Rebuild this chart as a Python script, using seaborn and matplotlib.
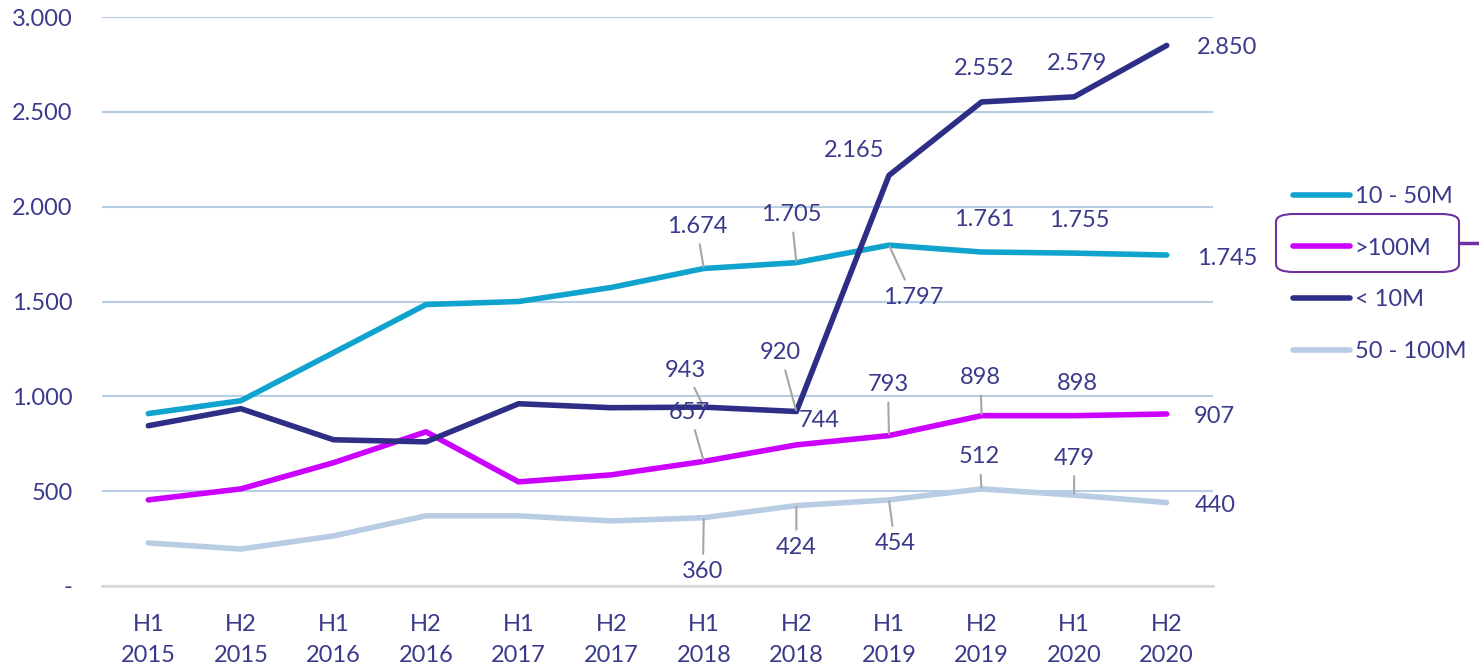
import pandas as pd
import matplotlib
matplotlib.use('Agg')
import matplotlib.pyplot as plt
import seaborn as sns
from matplotlib.ticker import FuncFormatter
from matplotlib.patches import FancyBboxPatch
from matplotlib.lines import Line2D

periods = ['H1\n2015', 'H2\n2015', 'H1\n2016', 'H2\n2016', 'H1\n2017', 'H2\n2017',
           'H1\n2018', 'H2\n2018', 'H1\n2019', 'H2\n2019', 'H1\n2020', 'H2\n2020']
series_names = ['10 - 50M', '>100M', '< 10M', '50 - 100M']

mid = [909, 977, 1230, 1484, 1500, 1574, 1674, 1705, 1797, 1761, 1755, 1745]
big = [454, 512, 650, 813, 549, 586, 657, 744, 793, 898, 898, 907]
small = [845, 935, 771, 760, 961, 940, 943, 920, 2165, 2552, 2579, 2850]
upper_mid = [227, 195, 264, 370, 370, 343, 360, 424, 454, 512, 479, 440]

colors = ['#0FA3CD', '#CC00FF', '#2E2E86', '#B8CCE4']
text_col = '#3A3A8C'

df = pd.DataFrame({
    'period': periods * 4,
    'idx': list(range(12)) * 4,
    'segment': [s for s in series_names for _ in range(12)],
    'value': mid + big + small + upper_mid,
})

sns.set_style('white')
plt.rcParams['font.family'] = ['Lato', 'DejaVu Sans']
fs = 17

fig = plt.figure(figsize=(14.79, 6.66), dpi=100)
ax = fig.add_axes([102 / 1479, 80 / 666, 1111 / 1479, 569 / 666])

sns.lineplot(data=df, x='idx', y='value', hue='segment', hue_order=series_names,
             palette=colors, linewidth=4, ax=ax, legend=False)

ax.set_xlim(-0.5, 11.5)
ax.set_ylim(0, 3000)
ax.set_yticks([0, 500, 1000, 1500, 2000, 2500, 3000])
ax.yaxis.set_major_formatter(FuncFormatter(
    lambda v, p: '-' if v == 0 else f'{int(v):,}'.replace(',', '.')))
ax.set_xticks(range(12))
ax.set_xticklabels(periods)
ax.tick_params(axis='both', length=0, labelsize=fs, colors=text_col)
ax.tick_params(axis='x', pad=20)
ax.tick_params(axis='y', pad=21)
for t in ax.get_xticklabels():
    t.set_linespacing(1.6)
ax.set_xlabel('')
ax.set_ylabel('')
ax.grid(axis='y', color='#B8CCE4', linewidth=1.5)
ax.set_axisbelow(True)
for s in ['top', 'right', 'left']:
    ax.spines[s].set_visible(False)
ax.spines['bottom'].set_color('#D9D9D9')
ax.spines['bottom'].set_linewidth(2)

# data labels: (series values, index, offset in pixels, leader line)
labels = [
    (mid, 6, (-7, 42), True), (mid, 7, (-5, 48), True), (mid, 8, (24, -52), True),
    (mid, 9, (3, 32), False), (mid, 10, (5, 33), False), (mid, 11, (60, -3), False),
    (small, 6, (-18, 37), True), (small, 7, (-16, 59), True), (small, 8, (-35, 25), False),
    (small, 9, (3, 33), False), (small, 10, (3, 33), False), (small, 11, (60, -2), False),
    (big, 6, (-14, 49), True), (big, 7, (23, 24), False), (big, 8, (-1, 51), True),
    (big, 9, (-1, 38), True), (big, 10, (3, 32), False), (big, 11, (48, -3), False),
    (upper_mid, 6, (-1, -54), True), (upper_mid, 7, (0, -42), True), (upper_mid, 8, (6, -44), True),
    (upper_mid, 9, (-2, 32), True), (upper_mid, 10, (0, 37), True), (upper_mid, 11, (49, -3), False),
]
for vals, i, off, leader in labels:
    v = vals[i]
    txt = f'{v:,}'.replace(',', '.')
    props = dict(arrowstyle='-', color='#A6A6A6', lw=1.5, shrinkA=3, shrinkB=1) if leader else None
    ax.annotate(txt, xy=(i, v), xytext=off, textcoords='offset pixels',
                ha='center', va='center', fontsize=fs, color=text_col, arrowprops=props)

handles = [Line2D([0], [0], color=c, linewidth=4, solid_capstyle='round') for c in colors]
fig.legend(handles, series_names, loc='center left', bbox_to_anchor=(1284 / 1479, 1 - 274 / 666),
           frameon=False, fontsize=fs, labelcolor=text_col, handlelength=2.4,
           handletextpad=0.2, labelspacing=1.3, borderaxespad=0)

box = FancyBboxPatch((1276 / 1479, 1 - 272 / 666), 183 / 1479, 58 / 666,
                     boxstyle='round,pad=0,rounding_size=0.012', transform=fig.transFigure,
                     fill=False, edgecolor='#7030A0', linewidth=1.5)
fig.patches.append(box)
fig.add_artist(Line2D([1459 / 1479, 1.0], [1 - 243 / 666] * 2, transform=fig.transFigure,
                      color='#7030A0', linewidth=2.5))

fig.savefig('out.png', dpi=100)
